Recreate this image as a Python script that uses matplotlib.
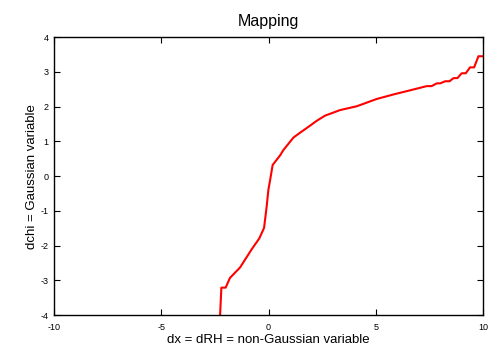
import matplotlib.pyplot as plt

# mapping curve
dx = [-2.26, -2.20, -2.00, -1.80, -1.33, -0.78, -0.43, -0.21, -0.09, -0.01, 0.07,
      0.19, 0.54, 0.69, 1.16, 1.47, 1.93, 2.24, 2.63, 2.94, 3.33, 4.11, 5.04, 5.82,
      6.60, 7.37, 7.60, 7.84, 8.00, 8.23, 8.43, 8.62, 8.80, 9.00, 9.19, 9.39, 9.58,
      9.78, 9.98]
dchi = [-4.00, -3.21, -3.21, -2.93, -2.63, -2.10, -1.79, -1.49, -0.88, -0.40, -0.12,
        0.32, 0.60, 0.75, 1.11, 1.25, 1.45, 1.59, 1.74, 1.81, 1.90, 2.01, 2.22, 2.35,
        2.47, 2.59, 2.59, 2.67, 2.67, 2.73, 2.73, 2.82, 2.82, 2.96, 2.96, 3.13, 3.13,
        3.45, 3.45]

xticks = [-10, -5, 0, 5, 10]
yticks = [-4, -3, -2, -1, 0, 1, 2, 3, 4]

plt.rcParams['font.family'] = ['Liberation Sans', 'DejaVu Sans']
plt.rcParams['axes.unicode_minus'] = False

fig = plt.figure(figsize=(4.91, 3.47), dpi=100)
ax = fig.add_axes([0.110, 0.092, 0.874, 0.801])

ax.plot(dx, dchi, color='#ff0000', linewidth=1.5)

ax.set_xlim(-10, 10)
ax.set_ylim(-4, 4)
ax.set_xticks(xticks)
ax.set_yticks(yticks)
ax.tick_params(direction='in', top=True, right=True, length=4, width=0.8,
               labelsize=6.5)
ax.tick_params(axis='x', pad=6)
ax.tick_params(axis='y', pad=4)
for s in ax.spines.values():
    s.set_linewidth(1.0)

ax.set_title('Mapping', fontsize=11.5, pad=8)
ax.set_xlabel('dx = dRH = non-Gaussian variable', fontsize=9.5, labelpad=1)
ax.set_ylabel('dchi = Gaussian variable', fontsize=9.5, labelpad=2)

fig.savefig('out.png', dpi=100)
